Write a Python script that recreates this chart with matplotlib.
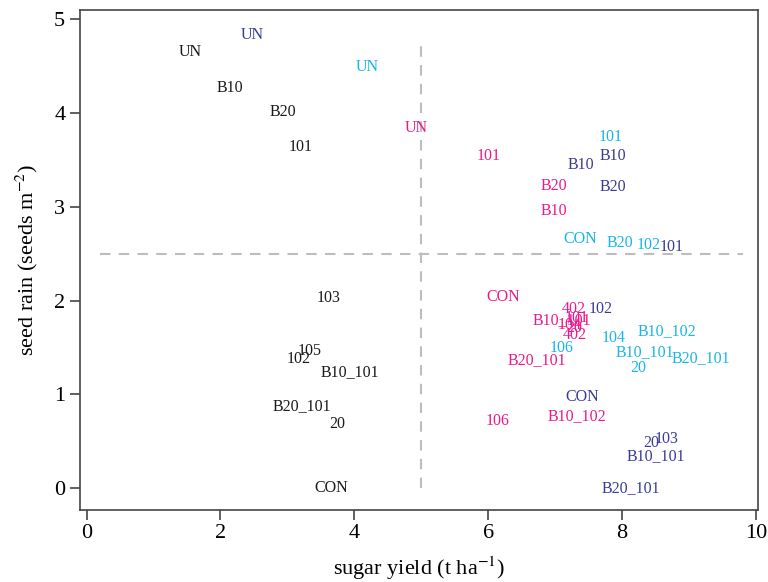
import matplotlib
matplotlib.use("Agg")
import matplotlib.pyplot as plt

plt.rcParams["font.family"] = ["Liberation Serif", "DejaVu Serif"]
plt.rcParams["mathtext.fontset"] = "stix"

# label positions: (label, sugar yield, seed rain)
black_lab = ["UN", "B10", "B20", "101", "103", "105", "102", "B10_101", "B20_101", "20", "CON"]
black_x = [1.55, 2.14, 2.93, 3.20, 3.62, 3.33, 3.17, 3.93, 3.21, 3.75, 3.65]
black_y = [4.65, 4.27, 4.01, 3.64, 2.03, 1.46, 1.38, 1.24, 0.88, 0.68, 0.0]

navy_lab = ["UN", "B10", "B10", "B20", "101", "102", "CON", "103", "20", "B10_101", "B20_101"]
navy_x = [2.48, 7.38, 7.86, 7.86, 8.74, 7.68, 7.41, 8.67, 8.43, 8.51, 8.13]
navy_y = [4.83, 3.45, 3.54, 3.21, 2.57, 1.91, 0.97, 0.52, 0.48, 0.34, 0.0]

cyan_lab = ["UN", "101", "CON", "B20", "102", "104", "B10_102", "106", "B10_101", "B20_101", "20"]
cyan_x = [4.20, 7.83, 7.37, 7.97, 8.39, 7.88, 8.67, 7.09, 8.34, 9.18, 8.24]
cyan_y = [4.49, 3.75, 2.66, 2.62, 2.59, 1.60, 1.67, 1.50, 1.45, 1.39, 1.28]

pink_lab = ["UN", "101", "B20", "B10", "CON", "402", "B10_101", "104", "101", "20", "402",
            "106", "B20_101", "B10_102"]
pink_x = [4.92, 6.01, 6.98, 6.98, 6.22, 7.28, 7.10, 7.21, 7.32, 7.28, 7.29, 6.14, 6.73, 7.32]
pink_y = [3.84, 3.54, 3.22, 2.96, 2.04, 1.91, 1.79, 1.74, 1.82, 1.71, 1.63, 0.72, 1.37, 0.77]

groups = [
    (black_lab, black_x, black_y, "#1a1a1a"),
    (navy_lab, navy_x, navy_y, "#3b3b96"),
    (cyan_lab, cyan_x, cyan_y, "#1ab4e8"),
    (pink_lab, pink_x, pink_y, "#ec1a8a"),
]

fig = plt.figure(figsize=(7.68, 5.82), dpi=100)
ax = fig.add_axes([0.104, 0.124, 0.883, 0.859])

ax.plot([5, 5], [0, 4.8], ls=(0, (5, 4)), color="#bdbdbd", lw=1.5)
ax.plot([0.2, 9.8], [2.5, 2.5], ls=(0, (5, 4)), color="#bdbdbd", lw=1.5)

for labs, xs, ys, col in groups:
    for lab, x, y in zip(labs, xs, ys):
        ax.text(x, y, lab, color=col, fontsize=11.5, ha="center", va="center")

ax.set_xlim(-0.1, 10.03)
ax.set_ylim(-0.23, 5.1)
ax.set_xticks([0, 2, 4, 6, 8, 10])
ax.set_yticks([0, 1, 2, 3, 4, 5])
ax.tick_params(labelsize=16, length=7, width=1.2, color="#444444", direction="out")
for s in ax.spines.values():
    s.set_color("#444444")
    s.set_linewidth(1.2)

ax.set_xlabel("sugar yield (t ha$^{-1}$)", fontsize=16, labelpad=8)
ax.set_ylabel("seed rain (seeds m$^{-2}$)", fontsize=16, labelpad=10)

fig.savefig("out.png", dpi=100)
